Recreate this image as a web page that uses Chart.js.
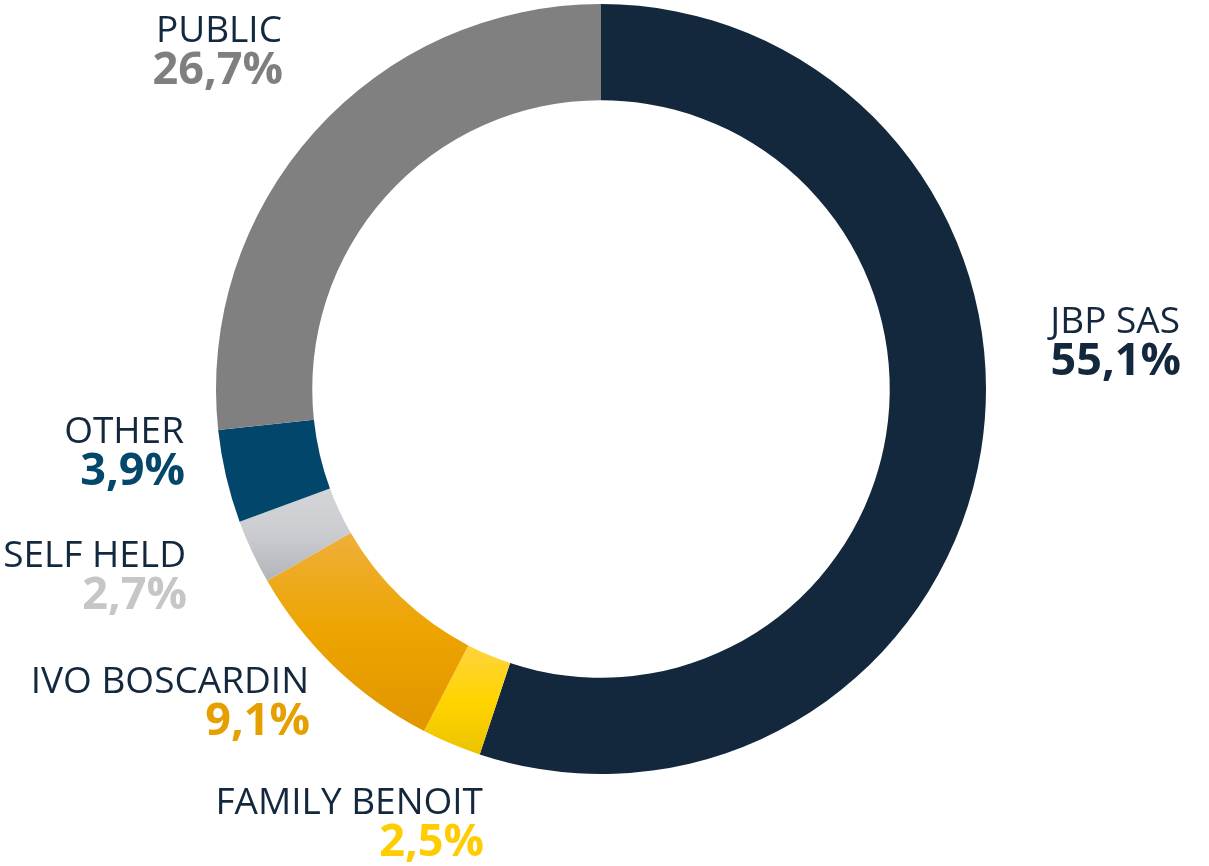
<!doctype html>
<html lang="en">

<head>
    <meta charset="utf-8">
    <title>Shareholders</title>
    <script src="https://cdn.jsdelivr.net/npm/chart.js"></script>
    <style>
        html, body { margin: 0; padding: 0; background: #fff; }
        canvas { display: block; }
    </style>
</head>

<body>
    <canvas id="myChart" width="1209" height="866"></canvas>

    <script>
        // data
        const labels = ['JBP SAS', 'FAMILY BENOIT', 'IVO BOSCARDIN', 'SELF HELD', 'OTHER', 'PUBLIC'];
        const shares = [55.1, 2.5, 9.1, 2.7, 3.9, 26.7];
        const shareLabels = ['55,1%', '2,5%', '9,1%', '2,7%', '3,9%', '26,7%'];

        // styles
        const NAVY = '#13273d';
        const fills = [
            ['#13273d', '#13273d'],
            ['#ffd33e', '#ffd500', '#ecc200'],
            ['#efaf3a', '#eda400', '#e19600'],
            ['#d4d5d8', '#cbccd0', '#b3b4b9'],
            ['#02476b', '#02476b'],
            ['#808080', '#808080']
        ];
        const valueColors = [NAVY, '#ffcc00', '#e5a000', '#c6c6c6', '#04476b', '#7f7f7f'];
        // label anchors: right edge x, name baseline y
        const labelPos = [
            [1180, 333],
            [483, 814],
            [309, 693],
            [186, 567],
            [184, 443],
            [282, 42]
        ];

        const CUT = 0.75;

        function segmentFill(ctx) {
            const i = ctx.dataIndex;
            const stops = fills[i];
            const chart = ctx.chart;
            const area = chart.chartArea;
            if (!area) return stops[0];
            const cx = (area.left + area.right) / 2;
            const cy = (area.top + area.bottom) / 2;
            const R = Math.min(area.right - area.left, area.bottom - area.top) / 2;
            const r = R * CUT;
            const total = shares.reduce((a, b) => a + b, 0);
            let before = 0;
            for (let k = 0; k < i; k++) before += shares[k];
            const a0 = -Math.PI / 2 + 2 * Math.PI * before / total;
            const a1 = a0 + 2 * Math.PI * shares[i] / total;
            const ys = [];
            [a0, a1].forEach(a => { ys.push(cy + R * Math.sin(a), cy + r * Math.sin(a)); });
            if (a0 < Math.PI / 2 && a1 > Math.PI / 2) ys.push(cy + R);
            const y0 = Math.min(...ys), y1 = Math.max(...ys);
            const g = chart.ctx.createLinearGradient(0, y0, 0, y1);
            stops.forEach((c, k) => g.addColorStop(k / (stops.length - 1), c));
            return g;
        }

        const labelPlugin = {
            id: 'sideLabels',
            afterDraw(chart) {
                const c = chart.ctx;
                c.save();
                c.textAlign = 'right';
                c.textBaseline = 'alphabetic';
                labels.forEach((name, i) => {
                    const [x, y] = labelPos[i];
                    c.fillStyle = NAVY;
                    c.font = '37px "Open Sans"';
                    c.fillText(name, x, y);
                    c.fillStyle = valueColors[i];
                    c.font = 'bold 45px "Open Sans"';
                    c.fillText(shareLabels[i], x + 1, y + 42);
                });
                c.restore();
            }
        };

        const config = {
            type: 'doughnut',
            data: {
                labels: labels,
                datasets: [{
                    data: shares,
                    backgroundColor: segmentFill,
                    borderWidth: 0
                }]
            },
            options: {
                responsive: false,
                animation: false,
                cutout: (CUT * 100) + '%',
                layout: {
                    padding: { top: 4, bottom: 92, left: 216, right: 223 }
                },
                events: [],
                plugins: {
                    legend: { display: false },
                    tooltip: { enabled: false }
                }
            },
            plugins: [labelPlugin]
        };

        const myChart = new Chart(document.getElementById('myChart'), config);
    </script>

</body>

</html>
